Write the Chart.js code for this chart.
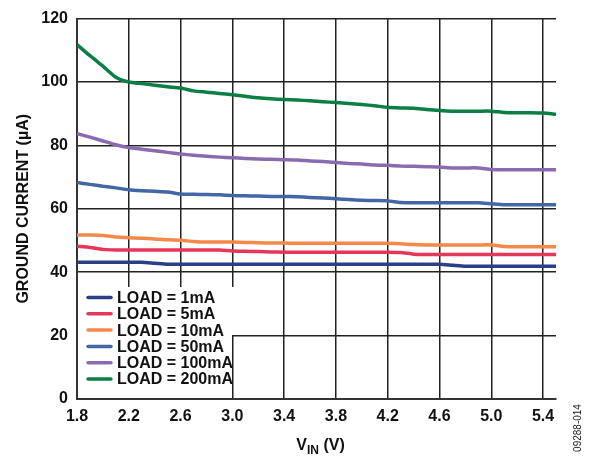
<!DOCTYPE html>
<html>
<head>
<meta charset="utf-8">
<script src="https://cdn.jsdelivr.net/npm/chart.js@4"></script>
<style>
  body { margin: 0; background: #fff; }
  #wrap { width: 589px; height: 457px; position: relative; }
</style>
</head>
<body>
<div id="wrap"><canvas id="myChart"></canvas></div>
<script>
// input voltage (V), 0.1 V steps
const vin = [1.8,1.9,2.0,2.1,2.2,2.3,2.4,2.5,2.6,2.7,2.8,2.9,3.0,3.1,3.2,3.3,3.4,3.5,3.6,3.7,
  3.8,3.9,4.0,4.1,4.2,4.3,4.4,4.5,4.6,4.7,4.8,4.9,5.0,5.1,5.2,5.3,5.4,5.5]

// ground current (uA) per load
const load1mA = [43.1,43.1,43.1,43.1,43.1,43.1,42.8,42.5,42.5,42.5,42.5,42.5,42.5,42.5,42.5,42.5,42.5,42.5,42.5,42.5,
  42.5,42.5,42.5,42.5,42.5,42.5,42.5,42.5,42.5,42.2,41.9,41.9,41.9,41.9,41.9,41.9,41.9,41.9]
const load5mA = [48.2,47.8,47.2,47.0,47.0,47.0,47.0,47.0,47.0,47.0,47.0,47.0,46.7,46.6,46.5,46.4,46.3,46.3,46.3,46.3,
  46.3,46.3,46.3,46.3,46.3,46.2,45.7,45.6,45.6,45.6,45.6,45.6,45.6,45.6,45.6,45.6,45.6,45.6]
const load10mA = [51.7,51.7,51.6,51.1,50.9,50.7,50.5,50.2,50.1,49.7,49.5,49.5,49.5,49.4,49.3,49.2,49.2,49.1,49.1,49.1,
  49.1,49.1,49.1,49.1,49.1,49.0,48.7,48.6,48.6,48.6,48.6,48.6,48.6,48.1,48.0,48.0,48.0,48.0]
const load50mA = [68.3,67.7,67.1,66.6,66.0,65.7,65.5,65.3,64.7,64.6,64.5,64.4,64.2,64.1,64.0,63.9,63.9,63.8,63.6,63.4,
  63.2,62.9,62.7,62.6,62.5,62.0,61.9,61.9,61.9,61.9,61.9,61.9,61.6,61.3,61.3,61.3,61.3,61.3]
const load100mA = [83.7,82.6,81.4,80.2,79.3,78.8,78.3,77.8,77.3,76.9,76.6,76.3,76.1,75.9,75.7,75.6,75.5,75.4,75.1,74.9,
  74.6,74.3,74.1,73.8,73.7,73.5,73.4,73.3,73.2,72.9,72.9,72.9,72.4,72.3,72.3,72.3,72.3,72.3]
const load200mA = [111.8,108.3,105.0,101.5,100.0,99.5,99.0,98.5,98.1,97.2,96.8,96.4,96.0,95.5,95.0,94.7,94.5,94.3,94.1,93.8,
  93.5,93.2,92.9,92.5,92.0,91.8,91.7,91.3,91.0,90.8,90.8,90.8,90.8,90.4,90.3,90.3,90.2,89.8]

const xTicks = [1.8,2.2,2.6,3.0,3.4,3.8,4.2,4.6,5.0,5.4]
const yTicks = [0,20,40,60,80,100,120]

const labels = ['LOAD = 1mA','LOAD = 5mA','LOAD = 10mA','LOAD = 50mA','LOAD = 100mA','LOAD = 200mA']
const colors = ['#2b3f87','#e5375a','#f5894a','#4266a6','#8a6ab0','#0a7f45']
const series = [load1mA, load5mA, load10mA, load50mA, load100mA, load200mA]

const FONT = '"Liberation Sans", Arial, sans-serif'

const datasets = series.map((s, i) => ({
  label: labels[i],
  data: s.map((v, j) => ({ x: vin[j], y: v })),
  borderColor: colors[i],
  backgroundColor: colors[i],
  borderWidth: 3.5,
  pointRadius: 0,
  tension: 0.2
}))

// white legend box inside the plot, plus the V_IN title and figure code
const extras = {
  id: 'extras',
  beforeDatasetsDraw(chart) {
    const ctx = chart.ctx
    const a = chart.chartArea
    ctx.save()
    ctx.fillStyle = '#fff'
    ctx.fillRect(a.left + 1, 287, 163, 48)
    ctx.fillRect(a.left + 1, 335, 154, a.bottom - 336)
    ctx.restore()
  },
  afterDraw(chart) {
    const ctx = chart.ctx
    const a = chart.chartArea
    ctx.save()
    // legend entries
    chart.data.datasets.forEach((ds, i) => {
      const y = 297.5 + i * 16.3
      ctx.strokeStyle = ds.borderColor
      ctx.lineWidth = 3.5
      ctx.lineCap = 'round'
      ctx.beginPath()
      ctx.moveTo(88, y)
      ctx.lineTo(111, y)
      ctx.stroke()
      ctx.fillStyle = '#111'
      ctx.font = 'bold 16px ' + FONT
      ctx.textBaseline = 'middle'
      ctx.textAlign = 'left'
      ctx.fillText(ds.label, 117, y + 1)
    })
    // x title with subscript
    ctx.fillStyle = '#111'
    ctx.textBaseline = 'alphabetic'
    ctx.font = 'bold 16px ' + FONT
    const w1 = ctx.measureText('V').width
    ctx.font = 'bold 12px ' + FONT
    const w2 = ctx.measureText('IN').width
    ctx.font = 'bold 16px ' + FONT
    const w3 = ctx.measureText(' (V)').width
    let x = (a.left + a.right) / 2 - (w1 + w2 + w3) / 2 + 4
    const base = 450
    ctx.fillText('V', x, base)
    x += w1
    ctx.font = 'bold 12px ' + FONT
    ctx.fillText('IN', x, base + 4)
    x += w2
    ctx.font = 'bold 16px ' + FONT
    ctx.fillText(' (V)', x, base)
    // figure code
    ctx.translate(581, 428)
    ctx.rotate(-Math.PI / 2)
    ctx.font = '10px ' + FONT
    ctx.textAlign = 'center'
    ctx.fillStyle = '#222'
    ctx.fillText('09288-014', 0, 0)
    ctx.restore()
  }
}

const ctx = document.getElementById('myChart').getContext('2d')
const chart = new Chart(ctx, {
  type: 'line',
  data: { datasets: datasets },
  options: {
    responsive: true,
    maintainAspectRatio: false,
    animation: false,
    layout: { padding: { top: 16, right: 33, left: 14, bottom: 0 } },
    plugins: { legend: { display: false }, tooltip: { enabled: false } },
    scales: {
      x: {
        type: 'linear',
        min: 1.8,
        max: 5.5,
        afterBuildTicks: scale => { scale.ticks = xTicks.map(v => ({ value: v })) },
        afterFit: scale => { scale.height = 58 },
        ticks: {
          color: '#111',
          font: { family: FONT, size: 16, weight: 'bold' },
          padding: 8,
          maxRotation: 0,
          autoSkip: false,
          callback: v => v.toFixed(1)
        },
        grid: { color: '#222', lineWidth: 1.5, drawTicks: false },
        border: { color: '#333', width: 2 }
      },
      y: {
        min: 0,
        max: 120,
        afterBuildTicks: scale => { scale.ticks = yTicks.map(v => ({ value: v })) },
        afterFit: scale => { scale.width = 63 },
        ticks: {
          color: '#111',
          font: { family: FONT, size: 16, weight: 'bold' },
          padding: 9
        },
        grid: { color: '#222', lineWidth: 1.5, drawTicks: false },
        border: { color: '#333', width: 2 },
        title: {
          display: true,
          text: 'GROUND CURRENT (µA)',
          color: '#111',
          font: { family: FONT, size: 16, weight: 'bold' },
          padding: { top: 0, bottom: 4 }
        }
      }
    }
  },
  plugins: [extras]
})
</script>
</body>
</html>
